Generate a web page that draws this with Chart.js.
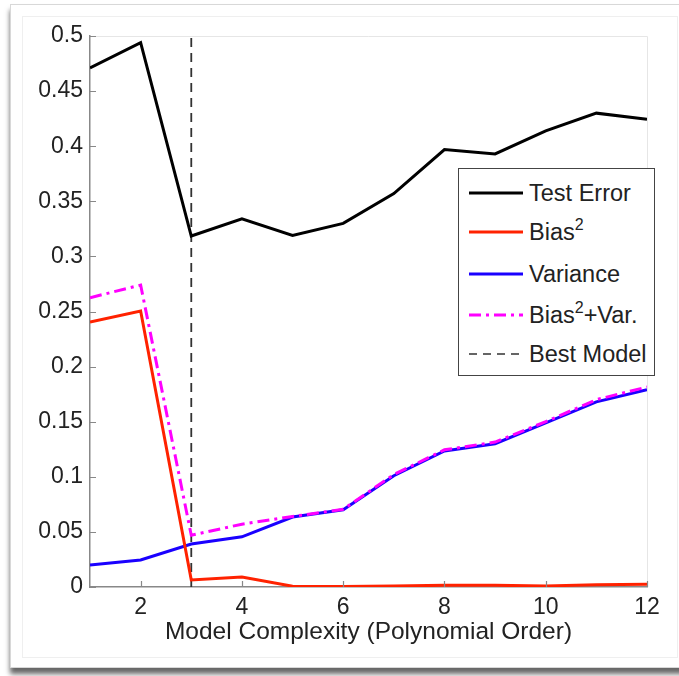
<!DOCTYPE html>
<html>
<head>
<meta charset="utf-8">
<script src="https://cdn.jsdelivr.net/npm/chart.js@4"></script>
<style>
  html, body { margin: 0; padding: 0; background: #fff; }
  body { width: 679px; height: 676px; position: relative; overflow: hidden; font-family: "Liberation Sans", Arial, sans-serif; }
  .card { position: absolute; left: 10px; top: 4px; width: 680px; height: 662px; border: 1px solid #d8d8d8; background: #fff; box-shadow: 0 6px 5px rgba(0,0,0,0.6); }
  .inner { position: absolute; left: 22px; top: 16px; width: 654px; height: 640px; border: 1px solid #efefef; }
  #chart { position: absolute; left: 0; top: 0; }
  .legend { position: absolute; left: 458px; top: 168px; width: 197px; height: 208px; border: 1px solid #444; background: #fff; box-sizing: border-box; }
  .legend .row { position: absolute; left: 10px; height: 30px; display: flex; align-items: center; font-size: 23.5px; color: #222; white-space: nowrap; }
  .legend svg { margin-right: 6px; }
  .legend sup { font-size: 16px; vertical-align: 10px; line-height: 0; }
</style>
</head>
<body>
<div class="card"></div>
<div class="inner"></div>
<canvas id="chart" width="679" height="676"></canvas>
<div class="legend" id="legend"></div>
<script>
const orders = [1, 2, 3, 4, 5, 6, 7, 8, 9, 10, 11, 12];
const testError = [0.471, 0.494, 0.3185, 0.334, 0.319, 0.330, 0.357, 0.397, 0.393, 0.414, 0.430, 0.4245];
const biasSq = [0.2405, 0.2505, 0.0064, 0.009, 0.0007, 0.0005, 0.001, 0.0015, 0.0015, 0.001, 0.002, 0.0025];
const variance = [0.020, 0.0245, 0.039, 0.0455, 0.0635, 0.070, 0.101, 0.1234, 0.130, 0.149, 0.168, 0.179];
const biasPlusVar = [0.2625, 0.274, 0.047, 0.057, 0.064, 0.0705, 0.102, 0.1245, 0.1315, 0.150, 0.170, 0.1815];
const bestOrder = 3;

const xTicks = [2, 4, 6, 8, 10, 12];
const yTicks = [0, 0.05, 0.1, 0.15, 0.2, 0.25, 0.3, 0.35, 0.4, 0.45, 0.5];

const legendItems = [
  { label: "Test Error", color: "#000000", width: 3, dash: "" },
  { label: "Bias<sup>2</sup>", color: "#ff2200", width: 3, dash: "" },
  { label: "Variance", color: "#1a00ff", width: 3, dash: "" },
  { label: "Bias<sup>2</sup>+Var.", color: "#ff00ff", width: 3, dash: "12 5 3 5" },
  { label: "Best Model", color: "#333333", width: 1.5, dash: "8 6" }
];

const FONT = "'Liberation Sans', Arial, sans-serif";

function toPoints(values) {
  return orders.map((o, i) => ({ x: o, y: values[i] }));
}

// short inward ticks on the left and bottom axes, plus the light box
const innerTicks = {
  id: "innerTicks",
  afterDraw(chart) {
    const { ctx, chartArea, scales } = chart;
    ctx.save();
    ctx.strokeStyle = "#e6e6e6";
    ctx.lineWidth = 1;
    ctx.beginPath();
    ctx.moveTo(chartArea.left, chartArea.top + 0.5);
    ctx.lineTo(chartArea.right + 0.5, chartArea.top + 0.5);
    ctx.lineTo(chartArea.right + 0.5, chartArea.bottom);
    ctx.stroke();

    ctx.strokeStyle = "#888";
    ctx.lineWidth = 1.2;
    ctx.beginPath();
    yTicks.forEach(v => {
      const y = Math.round(scales.y.getPixelForValue(v)) + 0.5;
      ctx.moveTo(chartArea.left, y);
      ctx.lineTo(chartArea.left + 6, y);
    });
    xTicks.forEach(v => {
      const x = Math.round(scales.x.getPixelForValue(v)) + 0.5;
      ctx.moveTo(x, chartArea.bottom);
      ctx.lineTo(x, chartArea.bottom - 6);
    });
    ctx.stroke();
    ctx.restore();
  }
};

const ctx = document.getElementById("chart").getContext("2d");

new Chart(ctx, {
  type: "line",
  data: {
    datasets: [
      {
        label: "Test Error",
        data: toPoints(testError),
        borderColor: "#000000",
        borderWidth: 3,
        order: 1
      },
      {
        label: "Bias2+Var.",
        data: toPoints(biasPlusVar),
        borderColor: "#ff00ff",
        borderWidth: 3,
        borderDash: [12, 5, 3, 5],
        order: 2
      },
      {
        label: "Bias2",
        data: toPoints(biasSq),
        borderColor: "#ff2200",
        borderWidth: 3,
        order: 3
      },
      {
        label: "Variance",
        data: toPoints(variance),
        borderColor: "#1a00ff",
        borderWidth: 3,
        order: 4
      },
      {
        label: "Best Model",
        data: [
          { x: bestOrder, y: yTicks[0] },
          { x: bestOrder, y: yTicks[yTicks.length - 1] }
        ],
        borderColor: "#333333",
        borderWidth: 1.8,
        borderDash: [9, 6],
        order: 5
      }
    ]
  },
  options: {
    responsive: false,
    animation: false,
    events: [],
    layout: {
      padding: { left: 0, top: 36, right: 32, bottom: 29 }
    },
    elements: {
      point: { radius: 0 },
      line: { tension: 0, fill: false, borderJoinStyle: "miter" }
    },
    plugins: {
      legend: { display: false },
      tooltip: { enabled: false }
    },
    scales: {
      x: {
        type: "linear",
        min: orders[0],
        max: orders[orders.length - 1],
        afterBuildTicks(scale) {
          scale.ticks = xTicks.map(v => ({ value: v }));
        },
        afterFit(scale) {
          scale.height = 60;
        },
        grid: { display: false, drawTicks: false },
        border: { display: true, color: "#888", width: 1.5 },
        ticks: {
          padding: 7,
          color: "#222",
          font: { family: FONT, size: 23 },
          maxRotation: 0
        },
        title: {
          display: true,
          text: "Model Complexity (Polynomial Order)",
          color: "#222",
          padding: { top: 0, bottom: 0 },
          font: { family: FONT, size: 24.5 }
        }
      },
      y: {
        type: "linear",
        min: yTicks[0],
        max: yTicks[yTicks.length - 1],
        afterBuildTicks(scale) {
          scale.ticks = yTicks.map(v => ({ value: v }));
        },
        afterFit(scale) {
          scale.width = 90;
        },
        grid: { display: false, drawTicks: false },
        border: { display: true, color: "#888", width: 1.5 },
        ticks: {
          padding: 7,
          color: "#222",
          font: { family: FONT, size: 23 },
          callback: v => String(Number(v.toFixed(2)))
        }
      }
    }
  },
  plugins: [innerTicks]
});

// legend drawn as html so the superscripts stay real text
const legend = document.getElementById("legend");
const rowTops = [9, 48, 90, 131, 170];
legendItems.forEach((item, i) => {
  const row = document.createElement("div");
  row.className = "row";
  row.style.top = rowTops[i] + "px";
  row.innerHTML = `
    <svg width="54" height="10"><line x1="0" y1="5" x2="54" y2="5"
      stroke="${item.color}" stroke-width="${item.width}"
      ${item.dash ? `stroke-dasharray="${item.dash}"` : ""}/></svg>
    <span>${item.label}</span>`;
  legend.appendChild(row);
});
</script>
</body>
</html>
